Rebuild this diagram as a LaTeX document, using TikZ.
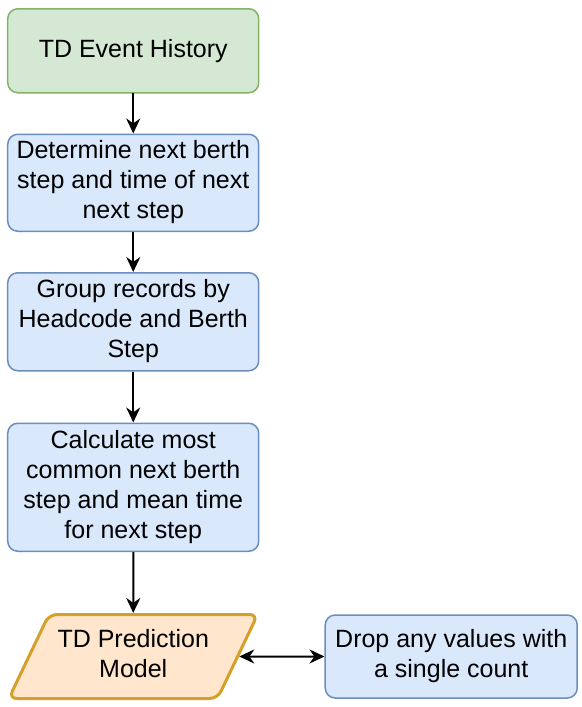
\documentclass[tikz,border=0pt]{standalone}
\usepackage{fontspec}
\setmainfont{Liberation Sans}
\usepackage{tikz}
\usetikzlibrary{matrix,shapes.geometric,arrows.meta}
\definecolor{greenfill}{HTML}{D5E8D4}
\definecolor{greenline}{HTML}{82B366}
\definecolor{bluefill}{HTML}{DAE8FC}
\definecolor{blueline}{HTML}{6C8EBF}
\definecolor{orangefill}{HTML}{FFE6CC}
\definecolor{orangeline}{HTML}{D5A02A}
\newcommand{\cellstack}[1]{\begin{tabular}{@{}c@{}}#1\end{tabular}}
\tikzset{
	source/.style={draw=greenline,fill=greenfill,line width=0.75pt,rounded corners=5pt,minimum width=125.5pt,anchor=center},
	process/.style={draw=blueline,fill=bluefill,line width=0.75pt,rounded corners=5pt,minimum width=125.5pt,inner ysep=0pt,anchor=center},
	model/.style={trapezium,trapezium left angle=59,trapezium right angle=121,trapezium stretches=true,draw=orangeline,fill=orangefill,line width=1.5pt,rounded corners=4pt,minimum width=124.5pt,minimum height=42pt,anchor=center,inner sep=0pt}
}

\begin{document}
\begin{tikzpicture}[font=\fontsize{12.5pt}{15pt}\selectfont,>={Stealth[length=7.5pt,width=7pt]}]
\matrix (m) [matrix of nodes,row sep=20pt,column sep=32.5pt]
{
	|[source,minimum height=42pt]| TD Event History & \\
	|[process,minimum height=48.5pt]| \cellstack{Determine next berth\\step and time of next\\next step} & \\
	|[process,minimum height=49pt]| \cellstack{Group records by\\Headcode and Berth\\Step} & \\[5.5pt]
	|[process,minimum height=64pt]| \cellstack{Calculate most\\common next berth\\step and mean time\\for next step} & \\[10.5pt]
	|[model]| \cellstack{TD Prediction\\Model} & |[process,minimum height=41.5pt,minimum width=126pt]| \cellstack{Drop any values with\\a single count} \\
};
\path[->,line width=1pt]
(m-1-1) edge (m-2-1)
(m-2-1) edge (m-3-1)
(m-3-1) edge (m-4-1)
(m-4-1) edge (m-5-1);
\draw[<->,line width=1pt] (m-5-1.east) -- (m-5-2.west);
\pgfresetboundingbox
\useasboundingbox ([xshift=-3.5pt,yshift=4pt]m-1-1.north west) rectangle ++(291pt,-353.5pt);
\end{tikzpicture}
\end{document}
